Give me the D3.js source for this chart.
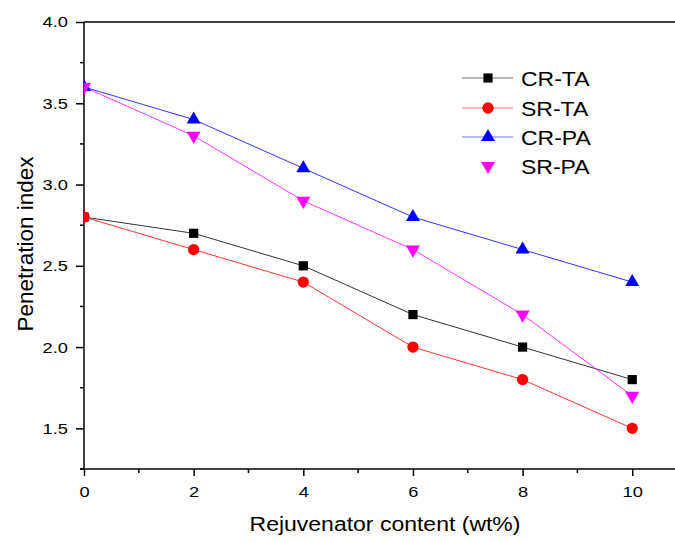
<!DOCTYPE html>
<html><head><meta charset="utf-8">
<script src="https://cdn.jsdelivr.net/npm/d3@7"></script>
<style>body{margin:0;background:#fff}svg{display:block;font-family:Arial,"Liberation Sans",sans-serif}</style>
</head><body><svg width="675" height="541"></svg>
<script>
const xValues = [0, 2, 4, 6, 8, 10];
const crTA = [2.8, 2.7, 2.5, 2.2, 2.0, 1.8];
const srTA = [2.8, 2.6, 2.4, 2.0, 1.8, 1.5];
const crPA = [3.6, 3.4, 3.1, 2.8, 2.6, 2.4];
const srPA = [3.6, 3.3, 2.9, 2.6, 2.2, 1.7];
const seriesNames = ["CR-TA", "SR-TA", "CR-PA", "SR-PA"];
const xTicks = [0, 2, 4, 6, 8, 10];
const yTicks = [1.5, 2.0, 2.5, 3.0, 3.5, 4.0];

const series = [
  {name: seriesNames[0], values: crTA, color: "#000000", symbol: d3.symbolSquare, size: 85, legendLine: true},
  {name: seriesNames[1], values: srTA, color: "#ff0000", symbol: d3.symbolCircle, size: 100, legendLine: true},
  {name: seriesNames[2], values: crPA, color: "#0000ff", symbol: d3.symbolTriangle, size: 85, legendLine: true},
  {name: seriesNames[3], values: srPA, color: "#ff00ff", symbol: d3.symbolTriangle, size: 85, legendLine: false, flip: true}
];

const svg = d3.select("svg");
const L = 84, T = 22, R = 675, B = 469;
const SX = 1.18; // horizontal text stretch seen in the reference
const x = d3.scaleLinear().domain([0, 10.78]).range([L, R]);
const y = d3.scaleLinear().domain([1.25, 4.0]).range([B, T]);

svg.append("defs").append("clipPath").attr("id", "plot")
  .append("rect").attr("x", L).attr("y", T - 10).attr("width", R - L + 10).attr("height", B - T + 10);

// frame
svg.append("line").attr("x1", L).attr("x2", R + 2).attr("y1", T).attr("y2", T).attr("stroke", "#000").attr("stroke-width", 1.5);

// axes
const xAxis = d3.axisBottom(x).tickValues(xTicks).tickFormat(d3.format("d")).tickSize(7).tickPadding(10);
const gx = svg.append("g").attr("transform", `translate(0,${B})`).call(xAxis);
gx.select(".domain").attr("d", `M${L - 4},0H${R + 2}`);
gx.append("g").selectAll("line").data([1, 3, 5, 7, 9]).join("line")
  .attr("x1", d => x(d)).attr("x2", d => x(d)).attr("y1", 0).attr("y2", 4).attr("stroke", "#000");

const yAxis = d3.axisLeft(y).tickValues(yTicks).tickFormat(d3.format(".1f")).tickSize(8).tickPadding(8);
const gy = svg.append("g").attr("transform", `translate(${L},0)`).call(yAxis);
gy.select(".domain").attr("d", `M0,${B}V${T}`);
gy.append("g").selectAll("line").data([1.25, 1.75, 2.25, 2.75, 3.25, 3.75]).join("line")
  .attr("x1", 0).attr("x2", -4).attr("y1", d => y(d)).attr("y2", d => y(d)).attr("stroke", "#000");

[gx, gy].forEach(g => {
  g.selectAll("path,line").attr("stroke-width", 1.5).attr("stroke", "#000");
  g.selectAll(".tick text").attr("font-size", 15.5).attr("fill", "#000")
    .attr("font-family", "Arial, 'Liberation Sans', sans-serif");
});
gy.selectAll(".tick text").attr("x", -16 / SX).attr("transform", `scale(${SX},1)`);
gx.selectAll(".tick text").attr("transform", `scale(${SX},1)`).attr("x", function() {
  return 0;
});

// axis titles
svg.append("text").attr("transform", `translate(385,531) scale(${SX},1)`).attr("text-anchor", "middle").attr("font-size", 19.5).text("Rejuvenator content (wt%)");
svg.append("text").attr("transform", "translate(33,244) rotate(-90)").attr("text-anchor", "middle").attr("font-size", 22.5).text("Penetration index");

// lines and markers
const plot = svg.append("g").attr("clip-path", "url(#plot)");
const line = d3.line().x((d, i) => x(xValues[i])).y(d => y(d));
series.forEach(s => {
  plot.append("path").datum(s.values).attr("d", line).attr("fill", "none").attr("stroke", s.color).attr("stroke-width", 0.8);
});
series.forEach(s => {
  plot.append("g").selectAll("path").data(s.values).join("path")
    .attr("d", d3.symbol().type(s.symbol).size(s.size))
    .attr("transform", (d, i) => `translate(${x(xValues[i])},${y(d)})${s.flip ? " rotate(180)" : ""}`)
    .attr("fill", s.color);
});

// legend
const legY = [78, 108, 137, 166];
series.forEach((s, i) => {
  const g = svg.append("g").attr("transform", `translate(0,${legY[i]})`);
  if (s.legendLine) g.append("line").attr("x1", 462).attr("x2", 513).attr("y1", 0).attr("y2", 0).attr("stroke", s.color).attr("stroke-width", 0.8).attr("opacity", 0.7);
  g.append("path").attr("d", d3.symbol().type(s.symbol).size(s.size))
    .attr("transform", `translate(488,0)${s.flip ? " rotate(180)" : ""}`).attr("fill", s.color);
  g.append("text").attr("transform", `translate(521,8) scale(${SX},1)`).attr("font-size", 19.5).text(s.name);
});
</script></body></html>
